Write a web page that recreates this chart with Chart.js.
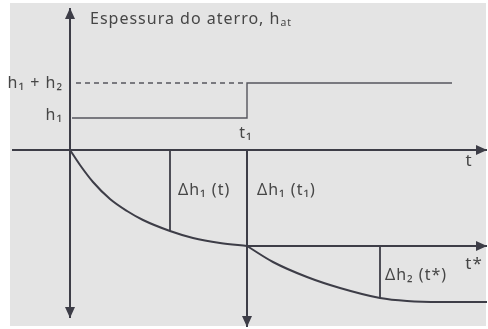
<!DOCTYPE html>
<html>
<head>
<meta charset="utf-8">
<script src="https://cdn.jsdelivr.net/npm/chart.js@4"></script>
<style>
  html, body { margin: 0; padding: 0; background: #fff; }
  #wrap { width: 488px; height: 329px; }
</style>
</head>
<body>
<div id="wrap"><canvas id="chart" width="488" height="329"></canvas></div>
<script>
// settlement curves (t along x, settlement down as negative y)
const curve1T = [0, 10, 23, 40, 57, 73, 100, 123, 150, 177];
const curve1H = [0, -15, -32, -49, -61, -70, -81, -88, -93, -96];
const curve2T = [177, 203, 237, 270, 310, 337, 370, 417];
const curve2H = [-96, -112, -127, -138, -148, -151, -152, -152];

// fill thickness levels and key times
const fillT = [2, 177, 177, 382];
const fillH = [32, 32, 67, 67];
const dashedT = [6, 175];
const dashedH = [67, 67];
const t1 = 177;
const tSample = 100;
const tStar = 310;

const INK = '#3d3d47';
const TEXT = '#464646';

const toPts = (xs, ys) => xs.map((x, i) => ({ x: x, y: ys[i] }));

function lineSet(points, opts) {
    return Object.assign({
        data: points,
        showLine: true,
        borderColor: INK,
        borderWidth: 1.6,
        pointRadius: 0,
        tension: 0,
        fill: false
    }, opts || {});
}

// axes of the diagram: [x0, y0, x1, y1, arrow at end]
const axes = [
    [-58, 0, 417, 0, 'right'],
    [0, -168, 0, 142, 'both'],
    [t1, 0, t1, -177, 'down'],
    [t1, -96, 417, -96, 'right']
];

const labels = [
    { text: 'Espessura do aterro, hₐₜ', x: 20, y: 131, align: 'left' },
    { text: 'h₁ + h₂', x: -7, y: 67, align: 'right' },
    { text: 'h₁', x: -7, y: 35, align: 'right' },
    { text: 't₁', x: 176, y: 17, align: 'center' },
    { text: 't', x: 399, y: -11, align: 'center', size: 17 },
    { text: 'Δh₁ (t)', x: 108, y: -40, align: 'left' },
    { text: 'Δh₁ (t₁)', x: 187, y: -40, align: 'left' },
    { text: 'Δh₂ (t*)', x: 315, y: -125, align: 'left' },
    { text: 't*', x: 404, y: -114, align: 'center', size: 17 }
];

const paperPlugin = {
    id: 'paper',
    beforeDraw(chart) {
        const ctx = chart.ctx;
        ctx.save();
        ctx.fillStyle = '#ffffff';
        ctx.fillRect(0, 0, chart.width, chart.height);
        ctx.fillStyle = '#e4e4e4';
        ctx.fillRect(10, 3, 476, 323);
        ctx.restore();
    }
};

function arrowHead(ctx, x, y, dir) {
    const L = 11, W = 5;
    ctx.beginPath();
    if (dir === 'right') {
        ctx.moveTo(x, y); ctx.lineTo(x - L, y - W); ctx.lineTo(x - L, y + W);
    } else if (dir === 'down') {
        ctx.moveTo(x, y); ctx.lineTo(x - W, y - L); ctx.lineTo(x + W, y - L);
    } else if (dir === 'up') {
        ctx.moveTo(x, y); ctx.lineTo(x - W, y + L); ctx.lineTo(x + W, y + L);
    }
    ctx.closePath();
    ctx.fill();
}

const diagramPlugin = {
    id: 'diagram',
    afterDatasetsDraw(chart) {
        const ctx = chart.ctx;
        const xs = chart.scales.x, ys = chart.scales.y;
        ctx.save();
        ctx.strokeStyle = INK;
        ctx.fillStyle = INK;
        ctx.lineWidth = 2;
        axes.forEach(a => {
            const x0 = xs.getPixelForValue(a[0]), y0 = ys.getPixelForValue(a[1]);
            const x1 = xs.getPixelForValue(a[2]), y1 = ys.getPixelForValue(a[3]);
            ctx.beginPath();
            ctx.moveTo(x0, y0);
            ctx.lineTo(x1, y1);
            ctx.stroke();
            if (a[4] === 'both') {
                arrowHead(ctx, x0, y0, 'down');
                arrowHead(ctx, x1, y1, 'up');
            } else {
                arrowHead(ctx, x1, y1, a[4]);
            }
        });

        ctx.fillStyle = TEXT;
        ctx.textBaseline = 'middle';
        ctx.letterSpacing = '1px';
        labels.forEach(l => {
            ctx.font = (l.size || 16) + 'px "Noto Sans", "DejaVu Sans", sans-serif';
            ctx.textAlign = l.align;
            ctx.fillText(l.text, xs.getPixelForValue(l.x), ys.getPixelForValue(l.y));
        });
        ctx.restore();
    }
};

new Chart(document.getElementById('chart'), {
    type: 'scatter',
    data: {
        datasets: [
            lineSet(toPts(fillT, fillH), { borderColor: '#55555d', borderWidth: 1.4 }),
            lineSet(toPts(dashedT, dashedH), { borderColor: '#55555d', borderWidth: 1.4, borderDash: [5, 4] }),
            lineSet(toPts(curve1T, curve1H), { borderWidth: 2, cubicInterpolationMode: 'monotone' }),
            lineSet(toPts(curve2T, curve2H), { borderWidth: 2, cubicInterpolationMode: 'monotone' }),
            lineSet([{ x: tSample, y: 0 }, { x: tSample, y: -81 }], { borderWidth: 1.8 }),
            lineSet([{ x: tStar, y: -96 }, { x: tStar, y: -148 }], { borderWidth: 1.8 })
        ]
    },
    options: {
        responsive: false,
        animation: false,
        devicePixelRatio: 1,
        layout: { padding: 0 },
        plugins: {
            legend: { display: false },
            tooltip: { enabled: false }
        },
        scales: {
            x: { type: 'linear', min: -70, max: 418, display: false },
            y: { type: 'linear', min: -179, max: 150, display: false }
        }
    },
    plugins: [paperPlugin, diagramPlugin]
});
</script>
</body>
</html>
